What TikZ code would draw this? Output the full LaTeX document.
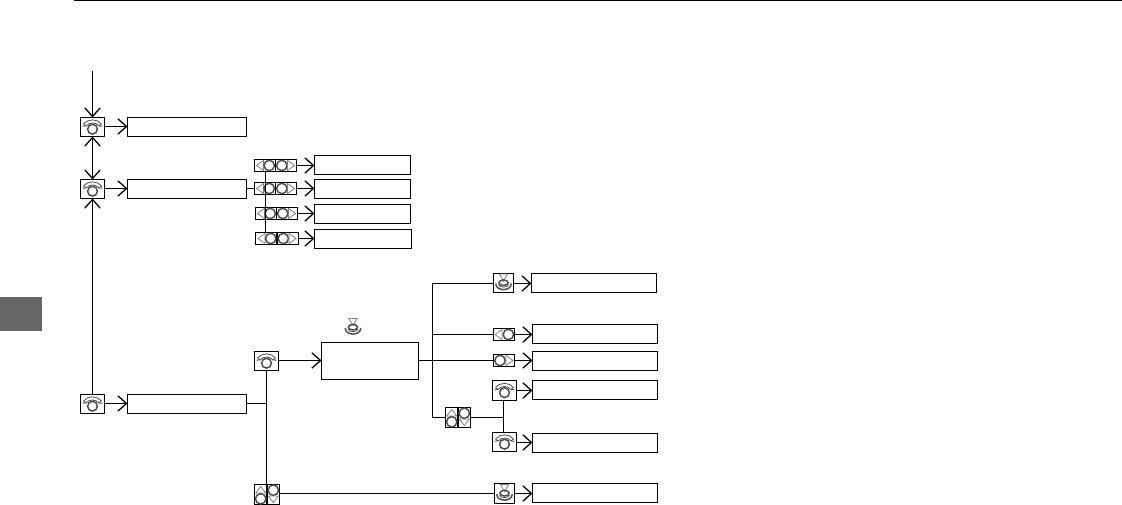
\documentclass[tikz,border=0pt]{standalone}
\usetikzlibrary{arrows.meta}
\definecolor{icongray}{gray}{0.3}
\definecolor{trigray}{gray}{0.5}
\definecolor{tabgray}{gray}{0.4}
\tikzset{
  x=0.75pt,y=-0.75pt,
  wire/.style={draw=black,line width=0.95pt},
  arrowwire/.style={wire,-{Straight Barb[length=6.5pt,width=11.5pt,line width=0.95pt]}},
  bothwire/.style={wire,{Straight Barb[length=6.5pt,width=11.5pt,line width=0.95pt]}-{Straight Barb[length=6.5pt,width=11.5pt,line width=0.95pt]}},
  framebox/.style={draw=black,line width=0.95pt,fill=white,inner sep=0pt,outer sep=0pt,rectangle},
  icoline/.style={draw=icongray,line width=0.6pt},
  triline/.style={draw=trigray,line width=0.6pt},
  icocirc/.style={draw=icongray,line width=1.1pt},
}
% name, x1, y1, x2, y2 (pixels)
\newcommand{\pxbox}[5]{\node[framebox,minimum width={(#4-#2)*0.75pt},minimum height={(#5-#3)*0.75pt}] (#1) at ({(#2+#4)/2},{(#3+#5)/2}) {};}
% horizontal arrow at the height of the source, shifted by #1
\newcommand{\conn}[3][0pt]{\draw[arrowwire] ([yshift=#1]#2.east) -- ([yshift=#1]#2.east -| #3.west);}
\newcommand{\knobart}[1]{\begin{scope}[shift={(#1.center)}]
  \draw[icocirc] (0,2.2) circle (4.9);
  \draw[icoline] (-9,-3) .. controls (-4.5,-8.5) and (4.5,-8.5) .. (9,-3);
  \draw[icoline] (-6.5,-1) .. controls (-3,-5) and (3,-5) .. (6.5,-1);
  \draw[icoline] (-9,-3) -- (-6.5,-1) (9,-3) -- (6.5,-1);
  \draw[icoline] (-10,-0.8) -- (-6.5,-1) (10,-0.8) -- (6.5,-1);
\end{scope}}
\newcommand{\pushart}[2]{\begin{scope}[shift={(#1,#2)}]
  \draw[triline] (-4.2,-9) -- (4.2,-9) -- (0,-2) -- cycle;
  \draw[icocirc] (0,-0.3) ellipse (4.6 and 2.8);
  \draw[icocirc] (-7.8,0.5) .. controls (-7.8,8.6) and (7.8,8.6) .. (7.8,0.5);
  \draw[icoline] (-5,1.5) .. controls (-4.5,5) and (4.5,5) .. (5,1.5);
\end{scope}}
\newcommand{\lt}[2]{\draw[triline] (#1+3.5,#2-5) -- (#1+3.5,#2+5) -- (#1-3.5,#2) -- cycle;}
\newcommand{\rt}[2]{\draw[triline] (#1-3.5,#2-5) -- (#1-3.5,#2+5) -- (#1+3.5,#2) -- cycle;}
\newcommand{\ut}[2]{\draw[triline] (#1-5,#2+3) -- (#1+5,#2+3) -- (#1,#2-3.5) -- cycle;}
\newcommand{\dt}[2]{\draw[triline] (#1-5,#2-3) -- (#1+5,#2-3) -- (#1,#2+3.5) -- cycle;}
\newcommand{\rg}[2]{\draw[icocirc] (#1,#2) circle (5.2);}
\newcommand{\stripart}[1]{\begin{scope}[shift={(#1.center)}]
  \draw[line width=0.85pt] (0,-6) -- (0,6);
  \lt{-15.5}{0} \rg{-6.3}{0} \rg{6.3}{0} \rt{15.5}{0}
\end{scope}}
\newcommand{\vertart}[1]{\begin{scope}[shift={(#1.center)}]
  \draw[line width=1.1pt] (0,-10) -- (0,10);
  \ut{-6.3}{-4.5} \rg{-6.3}{4.3} \rg{6.3}{-4.3} \dt{6.3}{4.5}
\end{scope}}
\begin{document}
\begin{tikzpicture}
\useasboundingbox (0,0) rectangle (1122,505);
\fill[white] (0,0) rectangle (1122,505);
\fill[tabgray] (0,297) rectangle (42,331);
\draw[line width=0.95pt] (74,0.5) -- (1122,0.5);

% left column
\pxbox{ka}{80.5}{117.5}{104.5}{136.5} \knobart{ka}
\pxbox{kb}{80.5}{179.5}{104.5}{198.5} \knobart{kb}
\pxbox{kc}{80.5}{394.5}{104.5}{413.5} \knobart{kc}
\pxbox{ba}{127.5}{117.5}{246.5}{136.5}
\pxbox{bb}{127.5}{179.5}{246.5}{198.5}
\pxbox{bc}{127.5}{394.5}{246.5}{413.5}
\coordinate (start) at (92.5,71);
\draw[arrowwire] (start) -- (ka.north);
\draw[bothwire] (ka.south) -- (kb.north);
\draw[arrowwire] (kc.north) -- (kb.south);
\conn[0.375pt]{ka}{ba}
\conn[0.375pt]{kb}{bb}
\conn[0.375pt]{kc}{bc}

% four strips
\pxbox{sa}{254.5}{159.5}{296.5}{171.5} \stripart{sa}
\pxbox{sb}{254.5}{182.5}{296.5}{194.5} \stripart{sb}
\pxbox{sc}{255.5}{207.5}{297.5}{219.5} \stripart{sc}
\pxbox{sd}{255.5}{232.5}{298.5}{244.5} \stripart{sd}
\pxbox{ra}{314.5}{155.5}{410.5}{174.5}
\pxbox{rb}{314.5}{179.5}{410.5}{198.5}
\pxbox{rc}{314.5}{204.5}{410.5}{223.5}
\pxbox{rd}{314.5}{229.5}{411.5}{248.5}
\conn{sa}{ra}
\conn{sb}{rb}
\conn{sc}{rc}
\conn{sd}{rd}
\draw[wire] (bb.east |- sb.west) -- (sb.west);
\coordinate (stop) at (265.5,171.5);
\coordinate (sbot) at (265.5,232.5);
\draw[wire] (stop) -- (sbot);

% lower branch
\pxbox{kd}{254.5}{351.5}{278.5}{370.5} \knobart{kd}
\pxbox{ve}{254.5}{484.5}{279.5}{504.5} \vertart{ve}
\pxbox{main}{321.5}{342.5}{418.5}{379.5}
\pushart{353}{327.5}
\coordinate (jl) at (266.5,403.5);
\draw[wire] (bc.east |- jl) -- (jl);
\draw[wire] (kd.south) -- (kd.south |- ve.north);
\conn[0.375pt]{kd}{main}

% right column
\pxbox{pa}{493.5}{273.5}{513.5}{292.5}
\pxbox{la}{493.5}{328.5}{514.5}{340.5}
\pxbox{lb}{493.5}{354.5}{514.5}{366.5}
\pxbox{ke}{492.5}{380.5}{516.5}{400.5} \knobart{ke}
\pxbox{kf}{492.5}{432.5}{516.5}{451.5} \knobart{kf}
\pxbox{pb}{494.5}{483.5}{514.5}{503.5}
\pushart{503.5}{283} \pushart{504.5}{493.5}
\begin{scope}[shift={(la.center)}]
  \lt{-5.5}{0} \rg{4.4}{0}
\end{scope}
\begin{scope}[shift={(lb.center)}]
  \rg{-4}{0} \rt{5.5}{0}
\end{scope}
\pxbox{vf}{445.5}{407.5}{470.5}{427.5} \vertart{vf}
\pxbox{ta}{531.5}{273.5}{656.5}{292.5}
\pxbox{tb}{532.5}{324.5}{657.5}{343.5}
\pxbox{tc}{532.5}{351.5}{657.5}{370.5}
\pxbox{td}{532.5}{380.5}{657.5}{399.5}
\pxbox{te}{532.5}{433.5}{657.5}{452.5}
\pxbox{tf}{532.5}{483.5}{657.5}{502.5}
\conn[-0.375pt]{pa}{ta}
\conn{la}{tb}
\conn{lb}{tc}
\conn{ke}{td}
\conn[-0.375pt]{kf}{te}
\conn{pb}{tf}
\draw[wire] (main.east |- lb.west) -- (lb.west);
\coordinate (bus) at (432.5,360.5);
\draw[wire] ([yshift=-0.375pt]pa.west) -| (vf.west -| bus) -- (vf.west);
\draw[wire] (la.west) -- (la.west -| bus);
\coordinate (jr) at (503.5,417.5);
\draw[wire] (vf.east) -- (jr);
\draw[wire] (jr |- ke.south) -- (jr |- kf.north);
\draw[wire] (pb.west -| ve.east) -- (pb.west);
\end{tikzpicture}
\end{document}
